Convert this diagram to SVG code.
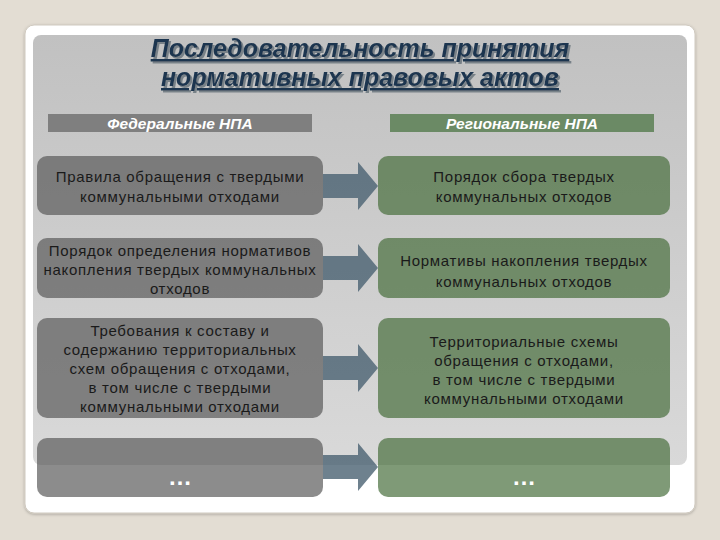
<svg xmlns="http://www.w3.org/2000/svg" width="720" height="540" viewBox="0 0 720 540">
<defs>
<linearGradient id="panel" x1="0" y1="0" x2="0" y2="1">
<stop offset="0" stop-color="#c1c1c1"/>
<stop offset="1" stop-color="#d9d9d9"/>
</linearGradient>
<filter id="sh" x="-5%" y="-5%" width="110%" height="110%">
<feDropShadow dx="0" dy="1" stdDeviation="1.5" flood-color="#000" flood-opacity="0.25"/>
</filter>
<filter id="tsh" x="-5%" y="-20%" width="110%" height="150%">
<feDropShadow dx="2" dy="2" stdDeviation="0.6" flood-color="#6f7a82" flood-opacity="0.9"/>
</filter>
</defs>
<style>
.fed{fill:#585858;fill-opacity:0.69}
.reg{fill:#466d3a;fill-opacity:0.69}
.t{font-family:"Liberation Sans",Arial,sans-serif;font-size:15px;fill:#1a1a1a;text-anchor:middle;letter-spacing:0.7px}
.h{font-family:"Liberation Sans",Arial,sans-serif;font-size:15.5px;font-weight:bold;font-style:italic;fill:#ffffff;text-anchor:middle}
.title{font-family:"Liberation Sans",Arial,sans-serif;font-size:25px;font-weight:bold;font-style:italic;text-anchor:middle;text-decoration:underline;fill:#1d3650}
.arr{fill:#4a6172;fill-opacity:0.8}
.dots{font-family:"Liberation Sans",Arial,sans-serif;font-size:24px;font-weight:bold;fill:#ffffff;text-anchor:middle}
</style>
<rect x="0" y="0" width="720" height="540" fill="#e3ddd3"/>
<rect x="25" y="25" width="670" height="488" rx="9" fill="#ffffff" stroke="#cfc9bf" stroke-width="1" filter="url(#sh)"/>
<rect x="33" y="35" width="654" height="430" rx="8" fill="url(#panel)"/>
<g id="title" filter="url(#tsh)">
<text class="title" x="360" y="57">Последовательность принятия</text>
<text class="title" x="360" y="86">нормативных правовых актов</text>
</g>
<g id="header-fed">
<rect x="48" y="114" width="264" height="18" fill="#7f7f7f"/>
<text class="h" x="180" y="129">Федеральные НПА</text>
</g>
<g id="header-reg">
<rect x="390" y="114" width="264" height="18" fill="#6b8a65"/>
<text class="h" x="522" y="129">Региональные НПА</text>
</g>
<g id="connectors">
<path class="arr" d="M323,174 H358 V162 L378,186 L358,210 V198 H323 Z"/>
<path class="arr" d="M323,256 H358 V244 L378,268 L358,292 V280 H323 Z"/>
<path class="arr" d="M323,356 H358 V344 L378,368 L358,392 V380 H323 Z"/>
<path class="arr" d="M323,455 H358 V443 L378,467 L358,491 V479 H323 Z"/>
</g>
<g id="fed1">
<rect class="fed" x="37" y="156" width="286" height="59" rx="10"/>
<text class="t" x="180" y="182">Правила обращения с твердыми</text>
<text class="t" x="180" y="202">коммунальными отходами</text>
</g>
<g id="fed2">
<rect class="fed" x="37" y="238" width="286" height="60" rx="10"/>
<text class="t" x="180" y="256">Порядок определения нормативов</text>
<text class="t" x="180" y="275">накопления твердых коммунальных</text>
<text class="t" x="180" y="294">отходов</text>
</g>
<g id="fed3">
<rect class="fed" x="37" y="318" width="286" height="100" rx="10"/>
<text class="t" x="180" y="336">Требования к составу и</text>
<text class="t" x="180" y="355">содержанию территориальных</text>
<text class="t" x="180" y="374">схем обращения с отходами,</text>
<text class="t" x="180" y="393">в том числе с твердыми</text>
<text class="t" x="180" y="412">коммунальными отходами</text>
</g>
<g id="fed4">
<rect class="fed" x="37" y="438" width="286" height="59" rx="10"/>
<text class="dots" x="180" y="485">…</text>
</g>
<g id="reg1">
<rect class="reg" x="378" y="156" width="292" height="59" rx="10"/>
<text class="t" x="524" y="182">Порядок сбора твердых</text>
<text class="t" x="524" y="202">коммунальных отходов</text>
</g>
<g id="reg2">
<rect class="reg" x="378" y="238" width="292" height="60" rx="10"/>
<text class="t" x="524" y="266">Нормативы накопления твердых</text>
<text class="t" x="524" y="287">коммунальных отходов</text>
</g>
<g id="reg3">
<rect class="reg" x="378" y="318" width="292" height="100" rx="10"/>
<text class="t" x="524" y="347">Территориальные схемы</text>
<text class="t" x="524" y="366">обращения с отходами,</text>
<text class="t" x="524" y="385">в том числе с твердыми</text>
<text class="t" x="524" y="404">коммунальными отходами</text>
</g>
<g id="reg4">
<rect class="reg" x="378" y="438" width="292" height="59" rx="10"/>
<text class="dots" x="524" y="485">…</text>
</g>
</svg>
